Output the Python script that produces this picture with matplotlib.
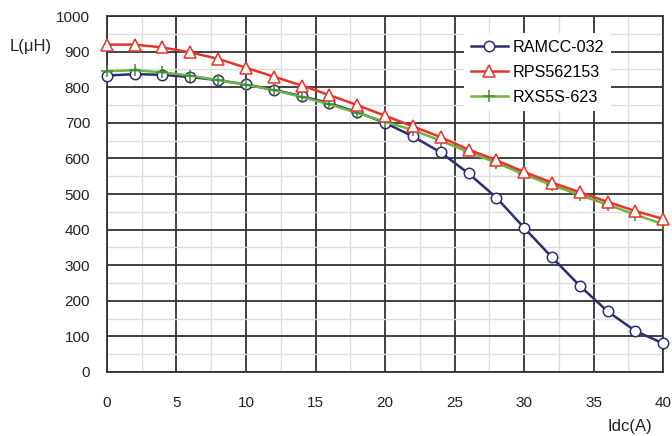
import matplotlib
matplotlib.use("Agg")
import matplotlib.pyplot as plt
from matplotlib.ticker import MultipleLocator

plt.rcParams['font.family'] = ['Liberation Sans', 'DejaVu Sans']

# Idc (A)
idc = [0, 2, 4, 6, 8, 10, 12, 14, 16, 18, 20, 22, 24, 26, 28, 30, 32, 34, 36, 38, 40]

# inductance (uH)
ramcc = [833, 837, 835, 829, 820, 808, 793, 775, 755, 730, 700, 662, 617, 558, 490,
         405, 322, 242, 170, 115, 80]
rps = [920, 920, 912, 898, 880, 855, 830, 805, 778, 750, 720, 690, 660, 625, 595,
       562, 532, 505, 478, 452, 430]
rxs = [845, 848, 842, 833, 820, 807, 792, 773, 752, 728, 703, 680, 650, 618, 588,
       555, 525, 497, 470, 442, 415]

names = ["RAMCC-032", "RPS562153", "RXS5S-623"]

fig = plt.figure(figsize=(6.72, 4.36), dpi=100)
ax = fig.add_axes([0.159, 0.147, 0.828, 0.816])

ax.plot(idc, ramcc, color="#283070", lw=1.8, marker="o", ms=7.5, mfc="white",
        mec="#283070", mew=1.1, label=names[0], zorder=3, clip_on=False)
ax.plot(idc, rps, color="#e8332a", lw=1.8, marker="^", ms=8.5, mfc="white",
        mec="#e8332a", mew=1.1, label=names[1], zorder=4, clip_on=False)
ax.plot(idc, rxs, color="#6cb643", lw=1.8, marker="+", ms=9, mec="#3d8a2a",
        mew=1.1, label=names[2], zorder=3, clip_on=False)

ax.set_xlim(0, 40)
ax.set_ylim(0, 1000)
ax.xaxis.set_major_locator(MultipleLocator(5))
ax.yaxis.set_major_locator(MultipleLocator(100))
ax.xaxis.set_minor_locator(MultipleLocator(2.5))
ax.yaxis.set_minor_locator(MultipleLocator(50))
ax.grid(which="major", color="#333333", lw=1.3, zorder=1)
ax.grid(which="minor", color="#dddddd", lw=1.0, zorder=0)
ax.set_axisbelow(True)
ax.tick_params(which="both", length=0, labelsize=11, colors="#222222")
ax.tick_params(axis="x", pad=17)
ax.tick_params(axis="y", pad=12)
for s in ax.spines.values():
    s.set_color("#333333")
    s.set_linewidth(1.3)

fig.text(0.015, 0.894, "L(\u03bcH)", fontsize=12, color="#222222", va="center")
fig.text(0.970, 0.021, "Idc(A)", fontsize=12, color="#222222", ha="right",
         va="center")

leg = ax.legend(loc="upper right", bbox_to_anchor=(0.92, 0.975), frameon=True,
                fontsize=11.6, handlelength=2.3, borderpad=0.4, labelspacing=0.62,
                handletextpad=0.3, fancybox=False)
leg.get_frame().set_edgecolor("none")
leg.get_frame().set_facecolor("white")
leg.get_frame().set_alpha(1)

fig.savefig("out.png", dpi=100)
